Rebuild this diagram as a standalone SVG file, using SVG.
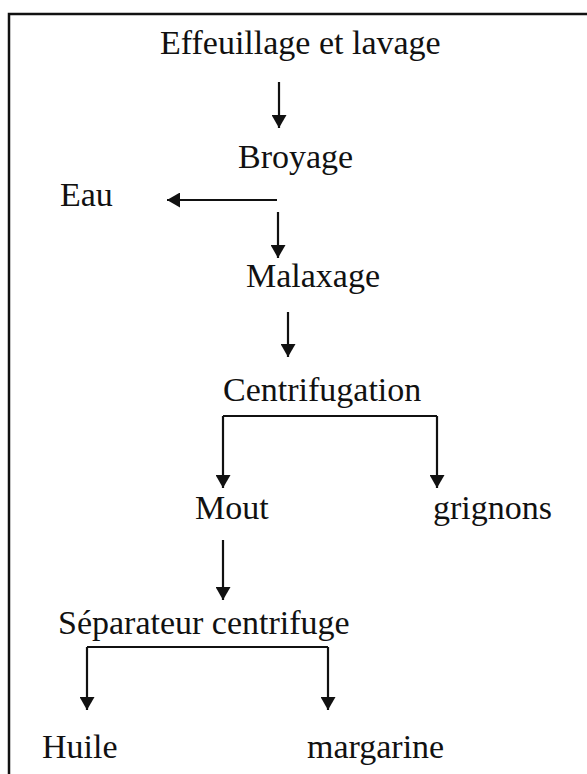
<svg xmlns="http://www.w3.org/2000/svg" width="587" height="774" viewBox="0 0 587 774">
<defs>
<style>
text{font-family:'Liberation Serif','Tinos','Times New Roman','Noto Serif','DejaVu Serif',serif;font-size:34px;fill:#111}
.ln{stroke:#111;stroke-width:2.2;fill:none}
.frame{stroke:#111;stroke-width:2.5;fill:none}
</style>
<marker id="ah" viewBox="0 0 13 15" refX="13" refY="7.5" markerWidth="13" markerHeight="15" markerUnits="userSpaceOnUse" orient="auto">
<path d="M0,0 L13,7.5 L0,15 Z" fill="#111"/>
</marker>
</defs>
<rect width="587" height="774" fill="#fff"/>
<path class="frame" d="M9,774 V14 H587"/>
<g id="n-effeuillage"><text x="160" y="54" font-family="Liberation Serif, serif">Effeuillage et lavage</text></g>
<g id="n-broyage"><text x="238" y="168" font-family="Liberation Serif, serif">Broyage</text></g>
<g id="n-eau"><text x="60" y="206" font-family="Liberation Serif, serif">Eau</text></g>
<g id="n-malaxage"><text x="246" y="287" font-family="Liberation Serif, serif">Malaxage</text></g>
<g id="n-centrifugation"><text x="223" y="401" font-family="Liberation Serif, serif">Centrifugation</text></g>
<g id="n-mout"><text x="195" y="519" font-family="Liberation Serif, serif">Mout</text></g>
<g id="n-grignons"><text x="433" y="519" font-family="Liberation Serif, serif">grignons</text></g>
<g id="n-separateur"><text x="58" y="634" font-family="Liberation Serif, serif">Séparateur centrifuge</text></g>
<g id="n-huile"><text x="42" y="758" font-family="Liberation Serif, serif">Huile</text></g>
<g id="n-margarine"><text x="307" y="758" font-family="Liberation Serif, serif">margarine</text></g>
<g id="connectors">
<path class="ln" d="M279,82 V128" marker-end="url(#ah)"/>
<path class="ln" d="M277,200 H167" marker-end="url(#ah)"/>
<path class="ln" d="M278,212 V258" marker-end="url(#ah)"/>
<path class="ln" d="M288,312 V357" marker-end="url(#ah)"/>
<path class="ln" d="M223,416 H437"/>
<path class="ln" d="M223,416 V488" marker-end="url(#ah)"/>
<path class="ln" d="M437,416 V488" marker-end="url(#ah)"/>
<path class="ln" d="M223,540 V600" marker-end="url(#ah)"/>
<path class="ln" d="M87,647 H328"/>
<path class="ln" d="M87,647 V710" marker-end="url(#ah)"/>
<path class="ln" d="M328,647 V710" marker-end="url(#ah)"/>
</g>
</svg>
